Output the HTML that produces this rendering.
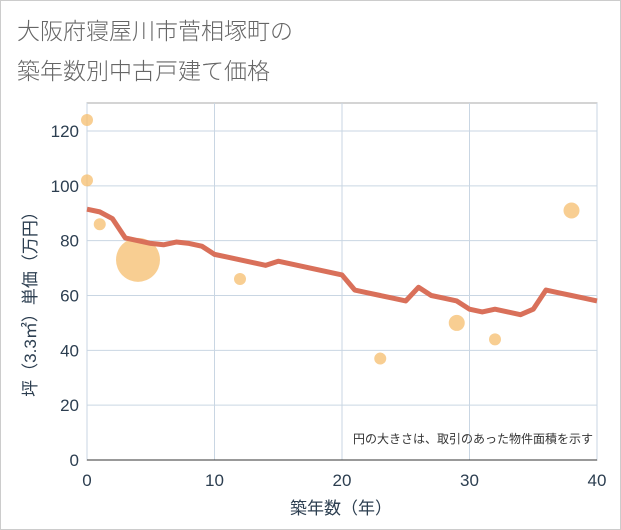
<!DOCTYPE html>
<html><head><meta charset="utf-8"><style>
body{margin:0;background:#fff}
svg{display:block;font-family:"Liberation Sans","Noto Sans CJK JP",sans-serif}
</style></head><body>
<svg id="c" width="621" height="530">
<rect x="0.5" y="0.5" width="620" height="529" fill="#fff" stroke="#ccc"/>
<text x="17" y="39" font-size="23" fill="#666" font-family="Noto Sans CJK JP, sans-serif" font-weight="300">大阪府寝屋川市菅相塚町の</text>
<text x="17" y="79" font-size="23" fill="#666" font-family="Noto Sans CJK JP, sans-serif" font-weight="300">築年数別中古戸建て価格</text>
<g id="grid"></g><g id="marks"></g>
<text x="593" y="443" font-size="12" fill="#333" text-anchor="end">円の大きさは、取引のあった物件面積を示す</text>
<text x="341" y="514" font-size="17" fill="#2c3e50" text-anchor="middle">築年数（年）</text>
<text transform="translate(36,300) rotate(-90)" font-size="17" fill="#2c3e50" text-anchor="middle">坪（3.3㎡）単価（万円）</text>
</svg>
<script>
const xTicks=[0,10,20,30,40];
const yTicks=[0,20,40,60,80,100,120];
const lineAges=[0,1,2,3,4,5,6,7,8,9,10,11,12,13,14,15,16,17,18,19,20,21,22,23,24,25,26,27,28,29,30,31,32,33,34,35,36,37,38,39,40];
const linePrices=[91.5,90.5,88,81,80,79,78.5,79.5,79,78,75,74,73,72,71,72.5,71.5,70.5,69.5,68.5,67.5,62,61,60,59,58,63,60,59,58,55,54,55,54,53,55,62,61,60,59,58];
const bubbleAges=[0,0,1,4,12,23,29,32,38];
const bubblePrices=[124,102,86,73,66,37,50,44,91];
const bubbleSizes=[6,6,6,22,6,6,8,6,8];
const X0=87,X1=597,Y0=460,YT=103;
const sx=v=>X0+(X1-X0)*v/40;
const sy=v=>Y0-(Y0-131)*v/120;
const NS="http://www.w3.org/2000/svg";
function mk(t,a,p){const e=document.createElementNS(NS,t);for(const k in a)e.setAttribute(k,a[k]);p.appendChild(e);return e;}
const g=document.getElementById('grid'),m=document.getElementById('marks');
mk('rect',{x:X0,y:YT,width:X1-X0,height:Y0-YT,fill:'#fff',stroke:'#aaa'},g);
xTicks.forEach(t=>{
 const l=mk('line',{x1:sx(t),x2:sx(t),y1:YT,y2:Y0,stroke:'#c9d6e3'},g);
 
 
 const tx=mk('text',{x:sx(t),y:Y0+26,'font-size':17,fill:'#2c3e50','text-anchor':'middle'},g);tx.textContent=t;
 
 
});
yTicks.forEach(t=>{
 const l=mk('line',{x1:X0,x2:X1,y1:sy(t),y2:sy(t),stroke:'#c9d6e3'},g);
 
 
 const tx=mk('text',{x:X0-8,y:sy(t)+6,'font-size':17,fill:'#2c3e50','text-anchor':'end'},g);tx.textContent=t;
 
 
});
mk('line',{x1:X0,x2:X1,y1:Y0,y2:Y0,stroke:'#333'},g);
bubbleAges.forEach((a,i)=>{
 const c=mk('circle',{cx:sx(a),cy:sy(bubblePrices[i]),r:bubbleSizes[i],fill:'#f6be6e','fill-opacity':0.75},m);
 
 
});
const p=mk('polyline',{points:lineAges.map((a,i)=>sx(a)+','+sy(linePrices[i])).join(' '),fill:'none',stroke:'#d9705a','stroke-width':5,'stroke-linejoin':'round'},m);


</script>
</body></html>
